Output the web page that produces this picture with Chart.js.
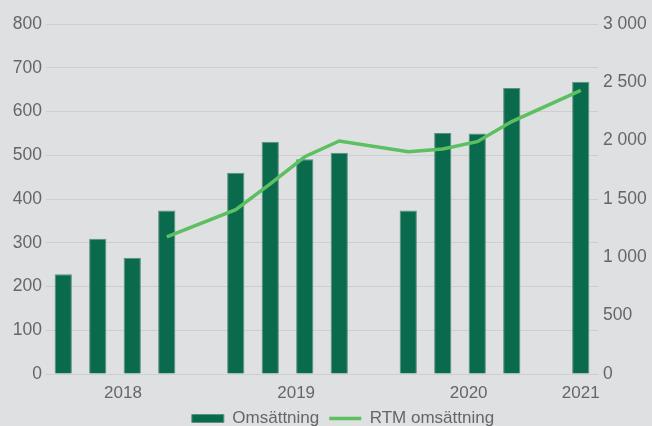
<!DOCTYPE html>
<html>
<head>
<meta charset="utf-8">
<script src="https://cdn.jsdelivr.net/npm/chart.js@4.4.1/dist/chart.umd.min.js"></script>
<style>
  html, body { margin: 0; padding: 0; background: #dfe0e2; }
  #wrap { width: 652px; height: 426px; }
</style>
</head>
<body>
<div id="wrap"><canvas id="chart"></canvas></div>
<script>
// quarters, empty slot between years
const quarters = ['Q1 2018', 'Q2 2018', 'Q3 2018', 'Q4 2018', '',
  'Q1 2019', 'Q2 2019', 'Q3 2019', 'Q4 2019', ' ',
  'Q1 2020', 'Q2 2020', 'Q3 2020', 'Q4 2020', '  ',
  'Q1 2021'];
const omsattning = [228, 309, 266, 374, null, 460, 531, 491, 506, null, 374, 551, 550, 654, null, 668];
const rtmOmsattning = [null, null, null, 1176, null, 1409, 1630, 1862, 1997, null, 1905, 1928, 1991, 2164, null, 2431];
const yearLabels = ['2018', '2019', '2020', '2021'];
const yearPos = [2.23, 7.25, 12.25, 15.5];

const textColor = '#666666';
const gridColor = '#cdcecf';
const fontFamily = 'Liberation Sans';

function spaced(v) {
  return String(v).replace(/\B(?=(\d{3})+(?!\d))/g, ' ');
}

// nudge legend down/right to sit like the original, and let year labels spill below their box
const legendShift = {
  id: 'legendShift',
  afterLayout(chart) {
    const lg = chart.legend;
    lg.top += 11; lg.bottom += 11;
    lg.left += 17; lg.right += 17;
    chart.scales.yr.bottom += 25;
  }
};

const ctx = document.getElementById('chart');
new Chart(ctx, {
  data: {
    labels: quarters,
    datasets: [
      {
        type: 'line',
        label: 'RTM omsättning',
        data: rtmOmsattning,
        yAxisID: 'y2',
        borderColor: '#5cbf60',
        backgroundColor: '#5cbf60',
        borderWidth: 3.5,
        pointRadius: 0,
        pointStyle: 'line',
        spanGaps: true,
        tension: 0,
        order: 0
      },
      {
        type: 'bar',
        label: 'Omsättning',
        data: omsattning,
        yAxisID: 'y',
        backgroundColor: '#0a6a4e',
        borderColor: '#5f8f7d',
        borderWidth: 1,
        pointStyle: 'rect',
        barPercentage: 0.5,
        categoryPercentage: 1,
        order: 1
      }
    ]
  },
  plugins: [legendShift],
  options: {
    responsive: true,
    maintainAspectRatio: false,
    animation: false,
    layout: { padding: { top: 24, left: 0, right: 0, bottom: 0 } },
    plugins: {
      tooltip: { enabled: false },
      legend: {
        position: 'bottom',
        reverse: true,
        labels: {
          color: textColor,
          font: { family: fontFamily, size: 17 },
          usePointStyle: true,
          pointStyleWidth: 32,
          boxWidth: 32,
          boxHeight: 8,
          padding: 10
        }
      }
    },
    scales: {
      x: {
        display: false,
        offset: true
      },
      yr: {
        type: 'linear',
        position: 'bottom',
        min: 0,
        max: 16,
        grid: { display: false, drawTicks: false },
        border: { display: false },
        afterBuildTicks: function(axis) {
          axis.ticks = yearPos.map(v => ({ value: v }));
        },
        afterFit: function(axis) { axis.height = 15; },
        ticks: {
          color: textColor,
          font: { family: fontFamily, size: 17 },
          padding: 9,
          maxRotation: 0,
          autoSkip: false,
          callback: function(value) {
            const i = yearPos.indexOf(value);
            return i >= 0 ? yearLabels[i] : '';
          }
        }
      },
      y: {
        position: 'left',
        min: 0,
        max: 800,
        grid: { color: gridColor, lineWidth: 1, drawTicks: false },
        border: { display: false },
        afterFit: function(axis) { axis.width = 46; },
        ticks: {
          stepSize: 100,
          color: textColor,
          font: { family: fontFamily, size: 17.5 },
          padding: 4
        }
      },
      y2: {
        position: 'right',
        min: 0,
        max: 3000,
        grid: { display: false, drawTicks: false },
        border: { display: false },
        afterFit: function(axis) { axis.width = 54; },
        ticks: {
          stepSize: 500,
          color: textColor,
          font: { family: fontFamily, size: 17.5 },
          padding: 5,
          callback: function(value) { return spaced(value); }
        }
      }
    }
  }
});
</script>
</body>
</html>
